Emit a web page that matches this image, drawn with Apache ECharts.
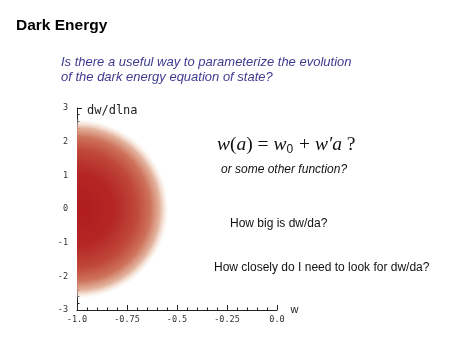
<!DOCTYPE html>
<html lang="en">
<head>
    <meta charset="UTF-8">
    <title>Dark Energy</title>
    <script src="https://cdn.jsdelivr.net/npm/echarts@6/dist/echarts.min.js"></script>
    <style>
        html, body { margin: 0; padding: 0; background: #fff; }
    </style>
</head>
<body>
<div id="main" style="width: 474px;height:355px;"></div>
<script>
    // region allowed: [w centre, dw/dlna centre, w half-width, dw/dlna half-height]
    var regionData = [[-1.0, 0, 0.46, 2.68]];
    var xTickLabels = ['-1.0', '-0.75', '-0.5', '-0.25', '0.0'];
    var yTickLabels = ['-3', '-2', '-1', '0', '1', '2', '3'];

    var mono = '"DejaVu Sans Mono", monospace';
    var sans = '"Liberation Sans", Arial, sans-serif';
    var serif = '"Liberation Serif", "DejaVu Serif", serif';

    function renderRegion(params, api) {
        var c = api.coord([api.value(0), api.value(1)]);
        var e = api.coord([api.value(0) + api.value(2), api.value(1) + api.value(3)]);
        var rx = e[0] - c[0];
        var ry = c[1] - e[1];
        var cs = params.coordSys;
        return {
            type: 'group',
            clipPath: {
                type: 'rect',
                shape: {x: cs.x, y: cs.y, width: cs.width, height: cs.height}
            },
            children: [{
                type: 'circle',
                x: c[0],
                y: c[1],
                scaleX: rx / ry,
                shape: {cx: 0, cy: 0, r: ry},
                style: {
                    fill: {
                        type: 'radial', x: 0.5, y: 0.5, r: 0.5,
                        colorStops: [
                            {offset: 0, color: 'rgba(175,28,30,1)'},
                            {offset: 0.4, color: 'rgba(180,38,36,1)'},
                            {offset: 0.65, color: 'rgba(192,72,58,1)'},
                            {offset: 0.8, color: 'rgba(206,115,92,1)'},
                            {offset: 0.9, color: 'rgba(222,165,140,0.85)'},
                            {offset: 0.97, color: 'rgba(245,225,210,0.4)'},
                            {offset: 1, color: 'rgba(255,255,255,0)'}
                        ]
                    }
                }
            }]
        };
    }

    var myChart = echarts.init(document.getElementById('main'));
    var option = {
        backgroundColor: '#fff',
        animation: false,
        title: {
            text: 'Dark Energy',
            left: 11,
            top: 13,
            textStyle: {fontFamily: sans, fontSize: 15.5, fontWeight: 'bold', color: '#000'}
        },
        grid: {left: 77, top: 108, width: 200, height: 202},
        xAxis: {
            type: 'value',
            min: -1,
            max: 0,
            interval: 0.25,
            name: 'w',
            nameLocation: 'end',
            nameGap: 6,
            nameTextStyle: {fontFamily: sans, fontSize: 11, color: '#222', verticalAlign: 'middle'},
            axisLine: {onZero: false, lineStyle: {color: '#222', width: 1}},
            axisTick: {inside: true, length: 5, lineStyle: {color: '#222'}},
            minorTick: {show: true, splitNumber: 5, length: 2.5, lineStyle: {color: '#222'}},
            splitLine: {show: false},
            axisLabel: {
                fontFamily: mono, fontSize: 8.5, color: '#333', margin: 5,
                formatter: function (v) {
                    return xTickLabels[Math.round((v + 1) / 0.25)];
                }
            }
        },
        yAxis: {
            type: 'value',
            min: -3,
            max: 3,
            interval: 1,
            name: 'dw/dlna',
            nameLocation: 'end',
            nameGap: -9,
            nameTextStyle: {fontFamily: mono, fontSize: 12, color: '#222', align: 'left', padding: [0, 0, 0, 10]},
            axisLine: {show: true, onZero: false, lineStyle: {color: '#222', width: 1}},
            axisTick: {show: true, inside: true, length: 5, lineStyle: {color: '#222'}},
            minorTick: {show: true, splitNumber: 5, length: 2.5, lineStyle: {color: '#222'}},
            splitLine: {show: false},
            axisLabel: {
                fontFamily: mono, fontSize: 8.5, color: '#333', margin: 9,
                formatter: function (v) {
                    return yTickLabels[Math.round(v + 3)];
                }
            }
        },
        series: [{
            type: 'custom',
            renderItem: renderRegion,
            data: regionData,
            z: 1
        }],
        graphic: [
            {
                type: 'text', left: 61, top: 55,
                style: {
                    text: 'Is there a useful way to parameterize the evolution\nof the dark energy equation of state?',
                    font: 'italic 13px ' + sans, fill: '#3d3b8e', lineHeight: 15
                }
            },
            {
                type: 'text', left: 217, top: 135,
                style: {
                    text: '{i|w}{r|(}{i|a}{r|) = }{i|w}{s|0}{r| + }{i|w′a}{r| ?}',
                    rich: {
                        i: {fontFamily: serif, fontStyle: 'italic', fontSize: 19.5, fill: '#111'},
                        r: {fontFamily: serif, fontSize: 19.5, fill: '#111'},
                        s: {fontFamily: sans, fontSize: 12, fill: '#111', verticalAlign: 'bottom', padding: [9, 1, 0, 0]}
                    }
                }
            },
            {
                type: 'text', left: 221, top: 164,
                style: {text: 'or some other function?', font: 'italic 12px ' + sans, fill: '#111'}
            },
            {
                type: 'text', left: 230, top: 218,
                style: {text: 'How big is dw/da?', font: '12px ' + sans, fill: '#111'}
            },
            {
                type: 'text', left: 214, top: 262,
                style: {text: 'How closely do I need to look for dw/da?', font: '12px ' + sans, fill: '#111'}
            }
        ]
    };
    myChart.setOption(option);
</script>
</body>
</html>
